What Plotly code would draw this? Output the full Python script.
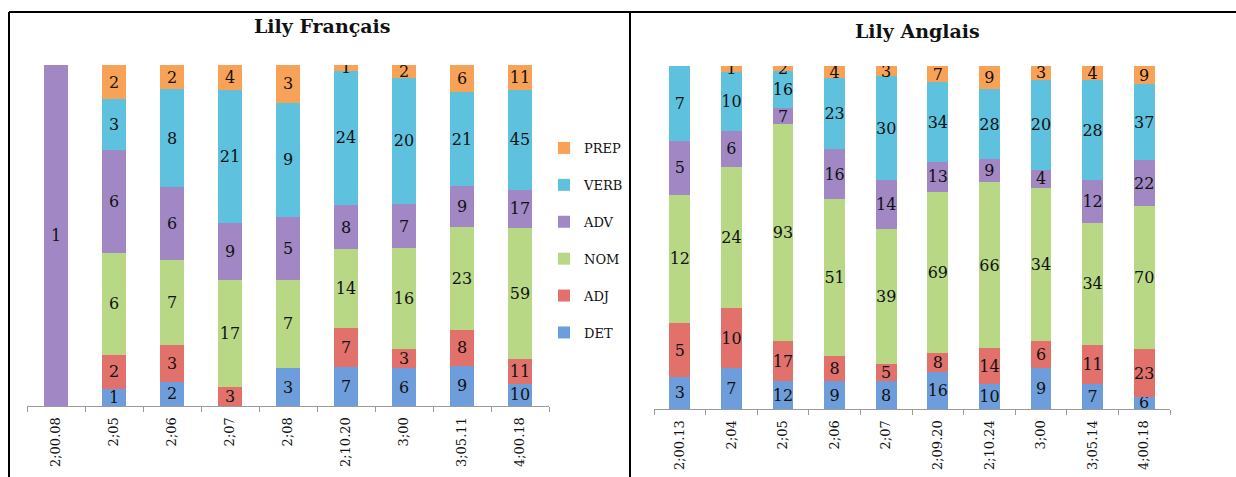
import plotly.graph_objects as go

W, H = 1236, 477

series = ["DET", "ADJ", "NOM", "ADV", "VERB", "PREP"]
legend_rank = {"PREP": 1, "VERB": 2, "ADV": 3, "NOM": 4, "ADJ": 5, "DET": 6}
colors = {"DET": "#6d9edb", "ADJ": "#e2716c", "NOM": "#b8d886",
          "ADV": "#a188c5", "VERB": "#5ec2df", "PREP": "#f8a257"}

fr_cats = ["2;00.08", "2;05", "2;06", "2;07", "2;08", "2;10.20", "3;00", "3;05.11", "4;00.18"]
fr_DET = [0, 1, 2, 0, 3, 7, 6, 9, 10]
fr_ADJ = [0, 2, 3, 3, 0, 7, 3, 8, 11]
fr_NOM = [0, 6, 7, 17, 7, 14, 16, 23, 59]
fr_ADV = [1, 6, 6, 9, 5, 8, 7, 9, 17]
fr_VERB = [0, 3, 8, 21, 9, 24, 20, 21, 45]
fr_PREP = [0, 2, 2, 4, 3, 1, 2, 6, 11]

en_cats = ["2;00.13", "2;04", "2;05", "2;06", "2;07", "2;09.20", "2;10.24", "3;00", "3;05.14", "4;00.18"]
en_DET = [3, 7, 12, 9, 8, 16, 10, 9, 7, 6]
en_ADJ = [5, 10, 17, 8, 5, 8, 14, 6, 11, 23]
en_NOM = [12, 24, 93, 51, 39, 69, 66, 34, 34, 70]
en_ADV = [5, 6, 7, 16, 14, 13, 9, 4, 12, 22]
en_VERB = [7, 10, 16, 23, 30, 34, 28, 20, 28, 37]
en_PREP = [0, 1, 2, 4, 3, 7, 9, 3, 4, 9]

fr = {"DET": fr_DET, "ADJ": fr_ADJ, "NOM": fr_NOM, "ADV": fr_ADV, "VERB": fr_VERB, "PREP": fr_PREP}
en = {"DET": en_DET, "ADJ": en_ADJ, "NOM": en_NOM, "ADV": en_ADV, "VERB": en_VERB, "PREP": en_PREP}

SERIF = "DejaVu Serif"

fig = go.Figure()
for data, cats, xa, ya, show in [(fr, fr_cats, "x", "y", True), (en, en_cats, "x2", "y2", False)]:
    for s in series:
        vals = data[s]
        fig.add_trace(go.Bar(
            x=cats, y=vals, name=s, xaxis=xa, yaxis=ya,
            marker=dict(color=colors[s], line=dict(width=0)),
            text=[str(v) if v else "" for v in vals],
            textposition="inside", insidetextanchor="middle", textangle=0,
            constraintext="none",
            textfont=dict(family=SERIF, size=16, color="#111111"),
            legendgroup=s, legendrank=legend_rank[s], showlegend=show,
            hoverinfo="x+y+name",
        ))

def px(x):
    return x / W

def py(y):
    return 1 - y / H

axis_common = dict(type="category", showgrid=False, showline=True, linecolor="#9a9a9a", linewidth=1,
                   ticks="outside", tickson="boundaries", ticklen=5, tickcolor="#9a9a9a",
                   ticklabelstandoff=5,
                   tickangle=-90, tickfont=dict(family=SERIF, size=13, color="#111111"))
yaxis_common = dict(visible=False, range=[0, 100], showgrid=False, zeroline=False)

fig.update_layout(
    width=W, height=H, margin=dict(l=0, r=0, t=0, b=0),
    paper_bgcolor="white", plot_bgcolor="white",
    barmode="stack", barnorm="percent", bargap=0.6,
    xaxis=dict(domain=[px(27), px(549)], anchor="y", **axis_common),
    yaxis=dict(domain=[py(406), py(65)], anchor="x", **yaxis_common),
    xaxis2=dict(domain=[px(654), px(1170)], anchor="y2", **axis_common),
    yaxis2=dict(domain=[py(409), py(66)], anchor="x2", **yaxis_common),
    legend=dict(x=px(544), y=py(133), xanchor="left", yanchor="top",
                traceorder="grouped", tracegroupgap=17,
                font=dict(family=SERIF, size=13, color="#111111"),
                itemwidth=30, bgcolor="rgba(0,0,0,0)"),
    showlegend=True,
    annotations=[
        dict(text="<b>Lily Français</b>", x=px(323), y=py(26), xref="paper", yref="paper",
             xanchor="center", yanchor="middle",
             showarrow=False, font=dict(family=SERIF, size=19, color="#111111")),
        dict(text="<b>Lily Anglais</b>", x=px(917), y=py(31), xref="paper", yref="paper",
             xanchor="center", yanchor="middle",
             showarrow=False, font=dict(family=SERIF, size=19, color="#111111")),
    ],
    shapes=[
        dict(type="line", xref="paper", yref="paper", x0=px(9), x1=px(9), y0=py(12), y1=0,
             line=dict(color="black", width=2)),
        dict(type="line", xref="paper", yref="paper", x0=px(9), x1=1, y0=py(12), y1=py(12),
             line=dict(color="black", width=2)),
        dict(type="line", xref="paper", yref="paper", x0=px(630), x1=px(630), y0=py(12), y1=0,
             line=dict(color="black", width=2)),
    ],
)

fig.write_html("out.html", config={"displayModeBar": False},
               post_script="document.body.style.margin='0';document.body.style.padding='0';")
